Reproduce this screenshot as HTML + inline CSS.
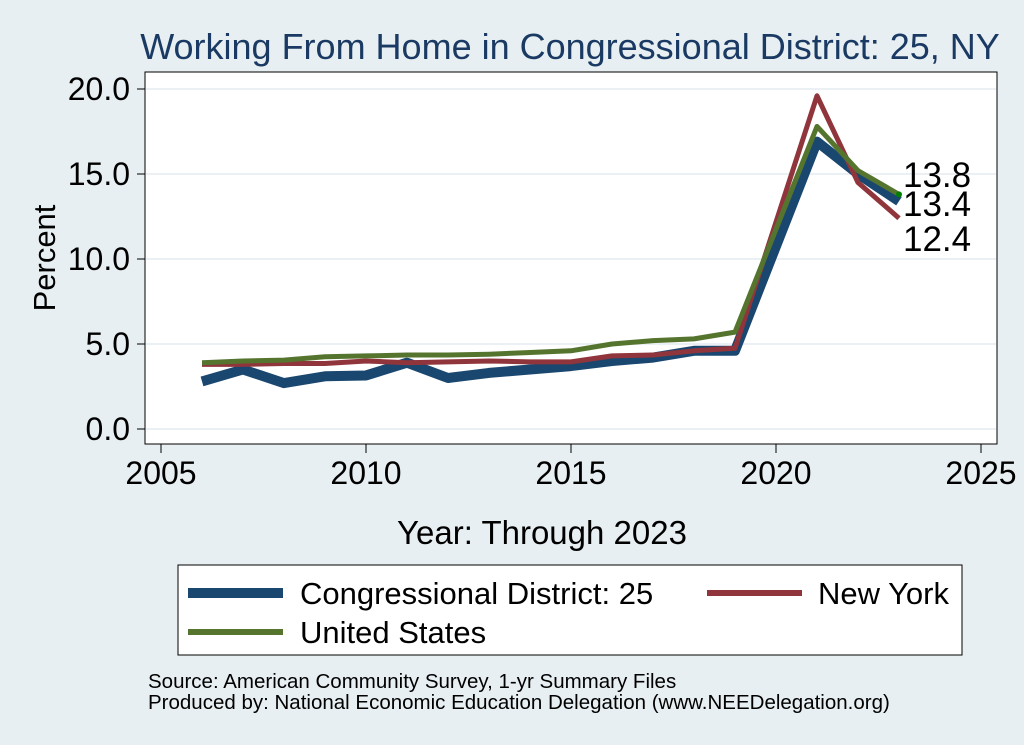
<!DOCTYPE html>
<html><head><meta charset="utf-8"><style>
body{margin:0;background:#e8eff2;}
svg{display:block;font-family:"Liberation Sans",Arial,sans-serif;}
</style></head><body>
<svg id="c" width="1024" height="745" viewBox="0 0 1024 745">
<rect width="1024" height="745" fill="#e8eff2"/>
<text x="570" y="59" text-anchor="middle" font-size="36" fill="#1a3a63">Working From Home in Congressional District: 25, NY</text>
<rect x="145" y="72" width="852" height="372" fill="#fff" stroke="#000" stroke-width="1"/>
<g id="grid"></g><g id="axes"></g><g id="series"></g>
<text x="55" y="258" text-anchor="middle" font-size="31" transform="rotate(-90 55 258)">Percent</text>
<text x="542" y="544" text-anchor="middle" font-size="33">Year: Through 2023</text>
<g>
<rect x="178" y="565" width="784" height="90" fill="#fff" stroke="#000" stroke-width="1"/>
<g><line x1="188" y1="593" x2="283" y2="593" stroke="#1a476f" stroke-width="10"/><text x="300" y="604" font-size="31">Congressional District: 25</text></g>
<g><line x1="707" y1="593" x2="802" y2="593" stroke="#90353b" stroke-width="6"/><text x="818" y="604" font-size="31">New York</text></g>
<g><line x1="188" y1="632" x2="283" y2="632" stroke="#55752f" stroke-width="6"/><text x="300" y="643" font-size="31">United States</text></g>
</g>
<text x="148" y="688" font-size="20.5">Source: American Community Survey, 1-yr Summary Files</text>
<text x="148" y="709" font-size="20.5">Produced by: National Economic Education Delegation (www.NEEDelegation.org)</text>
</svg>
<script>
const years=[2006,2007,2008,2009,2010,2011,2012,2013,2014,2015,2016,2017,2018,2019,2021,2022,2023];
const district=[2.8,3.5,2.7,3.1,3.15,3.9,3.0,3.3,3.5,3.7,4.0,4.2,4.6,4.6,16.9,15.0,13.4];
const newYork=[3.8,3.8,3.85,3.85,4.0,3.9,3.95,4.0,3.95,3.95,4.3,4.35,4.6,4.75,19.6,14.5,12.4];
const unitedStates=[3.9,4.0,4.05,4.25,4.3,4.35,4.35,4.4,4.5,4.6,5.0,5.2,5.3,5.7,17.8,15.2,13.8];
const xTicks=[2005,2010,2015,2020,2025];
const yTicks=[0,5,10,15,20];
const endLabels=["13.4","12.4","13.8"];
const NS="http://www.w3.org/2000/svg";
const xs=y=>161+(y-2005)*41;
const ys=v=>429-v*17;
function mk(t,a,p){const e=document.createElementNS(NS,t);for(const k in a)e.setAttribute(k,a[k]);p.appendChild(e);return e;}
const g=document.getElementById('grid'),ax=document.getElementById('axes'),s=document.getElementById('series');
yTicks.forEach(v=>{
 const l=mk('line',{x1:146,x2:996,y1:ys(v),y2:ys(v),stroke:'#eaf0f3','stroke-width':2},g);
 
 
 mk('line',{x1:137,x2:145,y1:ys(v),y2:ys(v),stroke:'#000'},ax);
 const t=mk('text',{x:130,y:ys(v)+11,'text-anchor':'end','font-size':32},ax);t.textContent=v.toFixed(1);
 
 
});
xTicks.forEach(v=>{
 mk('line',{x1:xs(v),x2:xs(v),y1:444,y2:453,stroke:'#000'},ax);
 const t=mk('text',{x:xs(v),y:484,'text-anchor':'middle','font-size':32},ax);t.textContent=v;
 
 
});
function line(data,color,w,name){
 const p=mk('polyline',{points:data.map((v,i)=>xs(years[i])+','+ys(v)).join(' '),fill:'none',stroke:color,'stroke-width':w,'stroke-linejoin':'round'},s);
 
 
}
line(district,'#1a476f',10,'line-district');
line(newYork,'#90353b',5,'line-new-york');
line(unitedStates,'#55752f',5,'line-united-states');
const last=years.length-1;
const dot=mk('circle',{cx:xs(years[last]),cy:ys(unitedStates[last]),r:3,fill:'#008000'},s);


const lab=[[unitedStates[last],endLabels[2],187],[district[last],endLabels[0],216],[newYork[last],endLabels[1],251]];
lab.forEach(([v,txt,y])=>{
 const t=mk('text',{x:903,y:y,'font-size':35},s);t.textContent=txt;
 
 
});
</script>
</body></html>
